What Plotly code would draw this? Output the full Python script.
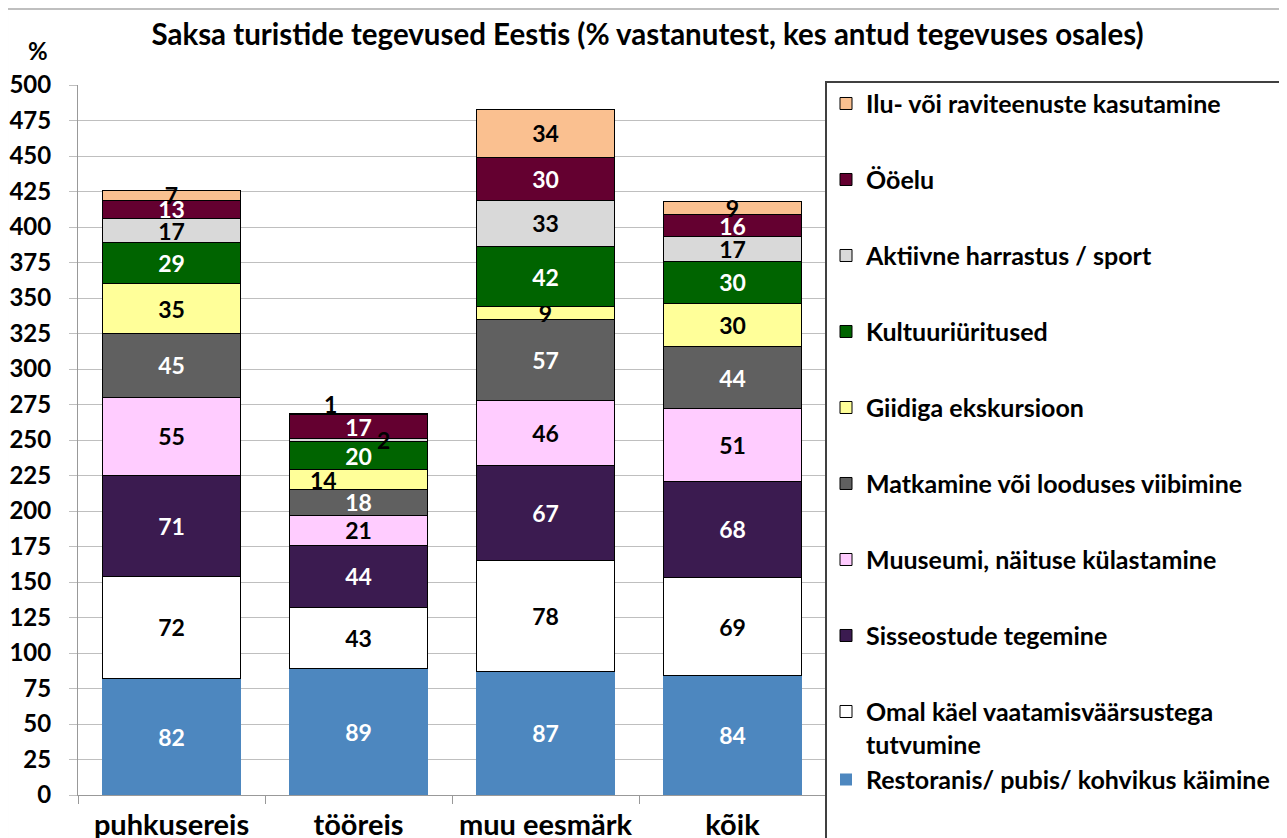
import plotly.graph_objects as go

categories = ["puhkusereis", "tööreis", "muu eesmärk", "kõik"]

series_names = [
    "Restoranis/ pubis/ kohvikus käimine",
    "Omal käel vaatamisväärsustega<br>tutvumine",
    "Sisseostude tegemine",
    "Muuseumi, näituse külastamine",
    "Matkamine või looduses viibimine",
    "Giidiga ekskursioon",
    "Kultuuriüritused",
    "Aktiivne harrastus / sport",
    "Ööelu",
    "Ilu- või raviteenuste kasutamine",
]

restoranis = [82, 89, 87, 84]
omal_kael = [72, 43, 78, 69]
sisseostud = [71, 44, 67, 68]
muuseum = [55, 21, 46, 51]
matkamine = [45, 18, 57, 44]
giidiga = [35, 14, 9, 30]
kultuur = [29, 20, 42, 30]
aktiivne = [17, 2, 33, 17]
ooelu = [13, 17, 30, 16]
ilu = [7, 1, 34, 9]

series_values = [restoranis, omal_kael, sisseostud, muuseum, matkamine,
                 giidiga, kultuur, aktiivne, ooelu, ilu]

colors = ["#4D87BF", "#FFFFFF", "#3B1B50", "#FFCCFF", "#606060",
          "#FFFF99", "#006400", "#D9D9D9", "#640030", "#FAC090"]
text_colors = ["white", "black", "white", "black", "white",
               "black", "white", "black", "white", "black"]
line_widths = [0, 1, 1, 1, 1, 1, 1, 1, 1, 1]
# the two bottom legend entries share a group (no gap after the two-line entry)
legend_groups = ["g0", "g0", "g2", "g3", "g4", "g5", "g6", "g7", "g8", "g9"]

# labels placed separately (series, category) -> (xshift, yshift)
special = {(9, 1): (-28, 10), (7, 1): (25, 0), (5, 1): (-35, 0)}

FONT = "Lato"
LBL = 23
fig = go.Figure()
for si, (name, vals) in enumerate(zip(series_names, series_values)):
    texts = []
    for ci, v in enumerate(vals):
        texts.append("" if (si, ci) in special else str(v))
    fig.add_trace(go.Bar(
        name=name, x=categories, y=vals, text=texts,
        textposition="inside", insidetextanchor="middle", textangle=0,
        textfont=dict(color=text_colors[si], size=LBL, family=FONT, weight="bold"),
        marker=dict(color=colors[si], line=dict(color="black", width=line_widths[si])),
        legendgroup=legend_groups[si], legendrank=100 - si,
        hoverinfo="skip",
    ))

for (si, ci), (dx, dy) in special.items():
    base = sum(series_values[k][ci] for k in range(si))
    mid = base + series_values[si][ci] / 2
    fig.add_annotation(x=categories[ci], y=mid, text=str(series_values[si][ci]),
                       showarrow=False, xshift=dx, yshift=dy,
                       font=dict(size=LBL, family=FONT, color="black", weight="bold"))

fig.add_annotation(xref="paper", yref="paper", x=-0.0535, y=1.049, text="%",
                   xanchor="center", yanchor="middle",
                   showarrow=False, font=dict(size=24, family=FONT, color="black", weight="bold"))

# outer chart border
fig.add_shape(type="rect", xref="paper", yref="paper", x0=-0.0949, y0=-1, x1=3, y1=1.107,
              line=dict(color="#BFBFBF", width=2), fillcolor="rgba(0,0,0,0)", layer="below")
# legend frame, running past the bottom/right edge as in the reference
fig.add_shape(type="rect", xref="paper", yref="paper", x0=1.0, y0=-1, x1=3, y1=1.0042,
              line=dict(color="#404040", width=2), fillcolor="white", layer="above")

fig.update_layout(
    barmode="stack",
    bargap=0.26,
    width=1279, height=830,
    margin=dict(l=70, r=461, t=77, b=43, autoexpand=False),
    paper_bgcolor="white", plot_bgcolor="white",
    font=dict(family=FONT, color="black"),
    title=dict(text="Saksa turistide tegevused Eestis (% vastanutest, kes antud tegevuses osales)",
               x=0.5, xanchor="center", y=0.9675, yanchor="middle", yref="container",
               font=dict(size=29.5, family=FONT, color="black", weight="bold")),
    uniformtext=dict(minsize=LBL, mode="show"),
    legend=dict(
        x=1.0, xanchor="left", y=1.006, yanchor="top",
        traceorder="grouped", tracegroupgap=40.5,
        font=dict(size=25, family=FONT, color="black", weight="bold"),
        bgcolor="rgba(0,0,0,0)", borderwidth=0,
        valign="top", itemclick=False, maxheight=1000,
    ),
    xaxis=dict(
        automargin=False,
        showgrid=False, showline=True, linecolor="#999999", linewidth=1,
        ticks="outside", tickson="boundaries", ticklen=8, tickcolor="#999999",
        tickfont=dict(size=29, family=FONT, color="black", weight="bold"),
        ticklabelstandoff=4,
    ),
    yaxis=dict(
        automargin=False,
        range=[0, 500], dtick=25, tick0=0,
        showgrid=True, gridcolor="#BFBFBF", gridwidth=1,
        showline=True, linecolor="#999999", linewidth=1,
        ticks="outside", ticklen=8, tickcolor="#BFBFBF",
        tickfont=dict(size=24, family=FONT, color="black", weight="bold"),
        ticklabelstandoff=13,
        zeroline=False,
    ),
)

fig.write_html("out.html")
